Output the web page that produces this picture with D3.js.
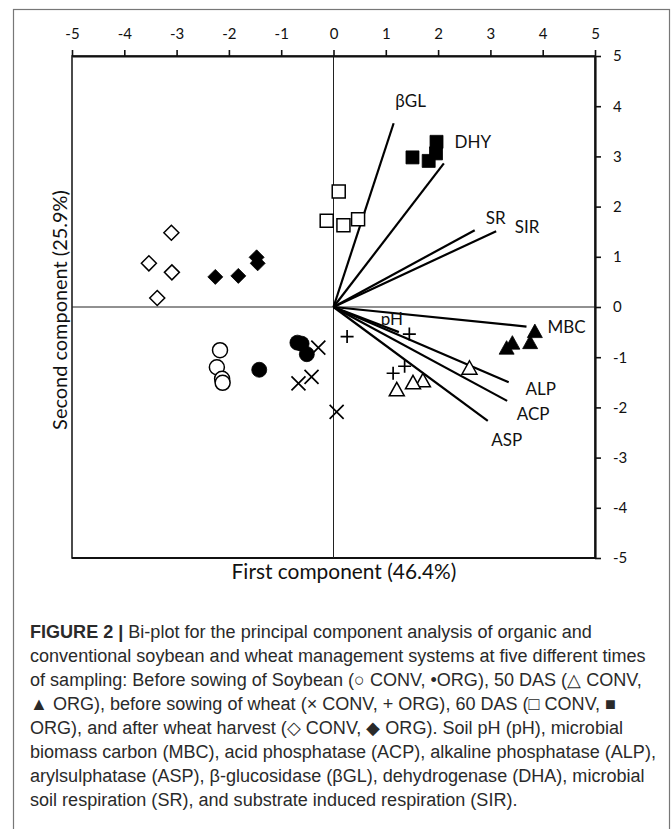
<!DOCTYPE html>
<html>
<head>
<meta charset="utf-8">
<script src="https://cdn.jsdelivr.net/npm/d3@7"></script>
<style>
  body { margin: 0; background: #fff; }
  svg { display: block; }
</style>
</head>
<body>
<script>
// PCA scores, [first component, second component]
const soyBeforeConv = [[-2.17, -0.86], [-2.23, -1.20], [-2.13, -1.43], [-2.12, -1.51]];
const soyBeforeOrg  = [[-0.69, -0.71], [-0.61, -0.73], [-0.51, -0.94], [-1.42, -1.25]];
const das50Conv     = [[2.60, -1.22], [1.71, -1.47], [1.52, -1.51], [1.21, -1.65]];
const das50Org      = [[3.85, -0.49], [3.76, -0.71], [3.42, -0.72], [3.31, -0.82]];
const wheatBeforeConv = [[-0.29, -0.81], [-0.42, -1.39], [-0.67, -1.52], [0.06, -2.09]];
const wheatBeforeOrg  = [[0.26, -0.59], [1.45, -0.54], [1.36, -1.18], [1.14, -1.32]];
const das60Conv     = [[0.10, 2.30], [-0.13, 1.72], [0.19, 1.63], [0.47, 1.75]];
const das60Org      = [[1.51, 2.98], [1.82, 2.91], [1.97, 3.29], [1.96, 3.06]];
const harvestConv   = [[-3.10, 1.48], [-3.53, 0.87], [-3.09, 0.69], [-3.37, 0.18]];
const harvestOrg    = [[-2.26, 0.60], [-1.82, 0.62], [-1.47, 0.99], [-1.45, 0.87]];

// loading vectors
const vectorNames = ["βGL", "DHY", "SR", "SIR", "MBC", "pH", "ALP", "ACP", "ASP"];
const vectorX = [1.15, 2.11, 2.70, 3.11, 3.69, 1.25, 3.35, 3.32, 2.95];
const vectorY = [3.66, 2.86, 1.53, 1.51, -0.39, -0.50, -1.50, -1.87, -2.27];

const tickValues = [-5, -4, -3, -2, -1, 0, 1, 2, 3, 4, 5];
const xTitle = "First component (46.4%)";
const yTitle = "Second component (25.9%)";

const width = 672, height = 829;
const plot = {left: 72, right: 595, top: 56, bottom: 558};

const svg = d3.select("body").append("svg")
  .attr("width", width)
  .attr("height", height);

svg.append("rect").attr("width", width).attr("height", height).attr("fill", "#fff");

// figure frame
svg.append("rect")
  .attr("x", 13.5).attr("y", 9.5)
  .attr("width", 656).attr("height", 900)
  .attr("fill", "none").attr("stroke", "#777").attr("stroke-width", 1.2);

const x = d3.scaleLinear().domain([-5, 5]).range([plot.left, plot.right]);
const y = d3.scaleLinear().domain([-5, 5]).range([plot.bottom, plot.top]);

const chartFont = "Lato, 'Open Sans', sans-serif";

// plot area border (left / bottom)
svg.append("rect")
  .attr("x", plot.left).attr("y", plot.top)
  .attr("width", plot.right - plot.left).attr("height", plot.bottom - plot.top)
  .attr("fill", "none").attr("stroke", "#111").attr("stroke-width", 1.5);
svg.append("line")
  .attr("x1", plot.left).attr("x2", plot.right)
  .attr("y1", plot.bottom).attr("y2", plot.bottom)
  .attr("stroke", "#111").attr("stroke-width", 2.2);

// zero lines
svg.append("line")
  .attr("x1", x(0)).attr("x2", x(0)).attr("y1", y(5)).attr("y2", y(-5))
  .attr("stroke", "#222").attr("stroke-width", 1);
svg.append("line")
  .attr("x1", x(-5)).attr("x2", x(5)).attr("y1", y(0)).attr("y2", y(0))
  .attr("stroke", "#222").attr("stroke-width", 1);

// axes: x on top, y on the right
const topAxis = svg.append("g")
  .attr("transform", `translate(0,${plot.top})`)
  .call(d3.axisTop(x).tickValues(tickValues).tickFormat(d => String(d))
    .tickSize(6).tickSizeOuter(0).tickPadding(11));
const rightAxis = svg.append("g")
  .attr("transform", `translate(${plot.right},0)`)
  .call(d3.axisRight(y).tickValues(tickValues).tickFormat(d => String(d))
    .tickSize(6).tickSizeOuter(0).tickPadding(12));

[topAxis, rightAxis].forEach(g => {
  g.select(".domain").attr("stroke", "#111").attr("stroke-width", 2.2);
  g.selectAll(".tick line").attr("stroke", "#111").attr("stroke-width", 1.6);
  g.selectAll(".tick text")
    .attr("font-family", chartFont).attr("font-size", 15).attr("fill", "#111");
});

// vectors
const vectors = vectorNames.map((name, i) => ({name, x: vectorX[i], y: vectorY[i]}));
const labelOffset = {
  "βGL": [17, -23], "DHY": [29, -22], "SR": [21, -13], "SIR": [31, -5],
  "MBC": [40, 0], "pH": [-7, -14], "ALP": [32, 6], "ACP": [26, 13], "ASP": [19, 19]
};

svg.append("g").selectAll("line")
  .data(vectors)
  .join("line")
  .attr("x1", x(0)).attr("y1", y(0))
  .attr("x2", d => x(d.x)).attr("y2", d => y(d.y))
  .attr("stroke", "#000").attr("stroke-width", 2.2);

svg.append("g").selectAll("text")
  .data(vectors)
  .join("text")
  .attr("x", d => x(d.x) + labelOffset[d.name][0])
  .attr("y", d => y(d.y) + labelOffset[d.name][1])
  .attr("text-anchor", "middle")
  .attr("dominant-baseline", "central")
  .attr("font-family", chartFont).attr("font-size", 17).attr("fill", "#111")
  .text(d => d.name);

// marker shapes
const shapes = {
  circle: "M7.5,0A7.5,7.5,0,1,1,-7.5,0A7.5,7.5,0,1,1,7.5,0Z",
  triangle: "M0,-7.5L7.5,6L-7.5,6Z",
  square: "M-6.5,-6.5H6.5V6.5H-6.5Z",
  diamond: "M0,-7.5L7.5,0L0,7.5L-7.5,0Z",
  cross: "M-7,-7L7,7M-7,7L7,-7",
  plus: "M-6.5,0H6.5M0,-6.5V6.5"
};

const groups = [
  {data: soyBeforeConv, shape: "circle", filled: false},
  {data: soyBeforeOrg, shape: "circle", filled: true},
  {data: das50Conv, shape: "triangle", filled: false},
  {data: das50Org, shape: "triangle", filled: true},
  {data: wheatBeforeConv, shape: "cross", filled: false},
  {data: wheatBeforeOrg, shape: "plus", filled: false},
  {data: das60Conv, shape: "square", filled: false},
  {data: das60Org, shape: "square", filled: true},
  {data: harvestConv, shape: "diamond", filled: false},
  {data: harvestOrg, shape: "diamond", filled: true}
];

groups.forEach(g => {
  const open = g.shape === "cross" || g.shape === "plus";
  svg.append("g").selectAll("path")
    .data(g.data)
    .join("path")
    .attr("transform", d => `translate(${x(d[0])},${y(d[1])})`)
    .attr("d", shapes[g.shape])
    .attr("fill", open ? "none" : (g.filled ? "#000" : "#fff"))
    .attr("stroke", "#000")
    .attr("stroke-width", open ? 1.7 : (g.filled ? 0.8 : 1.5));
});

// axis titles, sized to match the reference widths
function fitText(sel, target) {
  const w = sel.node().getComputedTextLength();
  const fs = parseFloat(sel.attr("font-size"));
  sel.attr("font-size", fs * target / w);
}

const xt = svg.append("text")
  .attr("x", 344).attr("y", 570)
  .attr("text-anchor", "middle").attr("dominant-baseline", "central")
  .attr("font-family", chartFont).attr("font-size", 17).attr("fill", "#111")
  .text(xTitle);
fitText(xt, 225);

const yt = svg.append("text")
  .attr("transform", "translate(59,310) rotate(-90)")
  .attr("text-anchor", "middle").attr("dominant-baseline", "central")
  .attr("font-family", chartFont).attr("font-size", 17).attr("fill", "#111")
  .text(yTitle);
fitText(yt, 240);

// caption
const captionLines = [
  [["FIGURE 2 |", true], [" Bi-plot for the principal component analysis of organic and", false]],
  [["conventional soybean and wheat management systems at five different times", false]],
  [["of sampling: Before sowing of Soybean (○ CONV, •ORG), 50 DAS (△ CONV,", false]],
  [["▲ ORG), before sowing of wheat (× CONV, + ORG), 60 DAS (□ CONV, ■", false]],
  [["ORG), and after wheat harvest (◇ CONV, ◆ ORG). Soil pH (pH), microbial", false]],
  [["biomass carbon (MBC), acid phosphatase (ACP), alkaline phosphatase (ALP),", false]],
  [["arylsulphatase (ASP), β-glucosidase (βGL), dehydrogenase (DHA), microbial", false]],
  [["soil respiration (SR), and substrate induced respiration (SIR).", false]]
];

const caption = svg.append("g")
  .attr("font-family", "'Liberation Sans', Arial, sans-serif")
  .attr("font-size", 16)
  .attr("fill", "#2a2a2a");

const capText = caption.selectAll("text")
  .data(captionLines)
  .join("text")
  .attr("x", 30)
  .attr("y", (d, i) => 638 + i * 24);

capText.selectAll("tspan")
  .data(d => d)
  .join("tspan")
  .attr("font-weight", d => d[1] ? "bold" : null)
  .text(d => d[0]);

const longW = capText.nodes()[1].getComputedTextLength();
caption.attr("font-size", 16 * 616 / longW);
</script>
</body>
</html>
